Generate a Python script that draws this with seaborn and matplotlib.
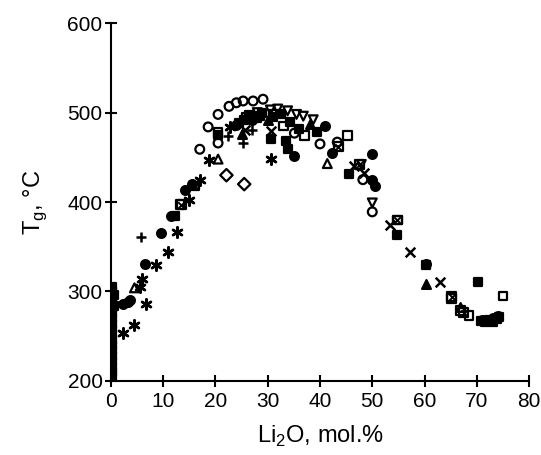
import numpy as np
import pandas as pd
import matplotlib
matplotlib.use("Agg")
import matplotlib.pyplot as plt
import seaborn as sns

# datos: Li2O (mol.%) vs Tg (C), una serie por simbolo
sq_fill_x = [0.3, 0.3, 0.3, 0.3, 0.3, 0.3, 0.3, 0.3, 0.3, 0.3, 0.3, 0.3, 0.3, 0.3, 0.3, 0.3, 0.3, 0.3, 0.6, 0.6,
             12.2, 20.4, 25.5, 26.5, 27.9, 29, 30.6, 31, 32.5, 33.8, 34.2, 36, 39.5, 45.6, 54.8, 60.2, 70.2,
             70.8, 71.5, 72.3, 73, 73.8, 74.3, 24.5, 28.5, 33.5]
sq_fill_y = [205, 210, 216, 222, 228, 234, 240, 246, 252, 258, 264, 270, 276, 282, 288, 294, 300, 305, 296, 284,
             384, 475, 492, 497, 494, 500, 470, 495, 498, 459, 490, 482, 478, 431, 363, 329, 311,
             267, 266, 268, 266, 269, 271, 488, 496, 468]
sq_open_x = [13.2, 20.5, 33, 37.1, 45.3, 54.8, 65.2, 66.9, 68.5, 75]
sq_open_y = [397, 478, 485, 474, 474, 380, 292, 279, 273, 295]
sq_x_x = [13.5, 16, 26, 31, 43.5, 47.6, 54.8, 65.2, 67.5]
sq_x_y = [397, 418, 495, 498, 462, 442, 380, 294, 276]
ci_fill_x = [2.4, 3.2, 3.7, 6.5, 9.6, 11.5, 14.2, 15.5, 24, 27, 35.1, 41, 42.3, 50, 50, 50.5, 60.2, 71, 72, 73, 74]
ci_fill_y = [286, 288, 290, 331, 365, 384, 414, 420, 486, 492, 451, 485, 455, 454, 425, 418, 331, 268, 267, 270, 272]
ci_open_x = [17, 18.6, 20.5, 20.5, 22.6, 24, 25.3, 27.2, 29.1, 35.1, 40, 43.3, 48.2, 50]
ci_open_y = [459, 484, 498, 466, 507, 511, 513, 513, 515, 477, 465, 467, 425, 389]
tri_open_x = [4.5, 20.5, 41.4, 66.9]
tri_open_y = [304, 448, 443, 282]
tri_fill_x = [25, 30, 38, 60.2]
tri_fill_y = [476, 492, 487, 308]
tri_inv_x = [28, 30.5, 31.9, 33.8, 35.5, 36.8, 38.7, 47.9, 50]
tri_inv_y = [500, 503, 504, 502, 498, 496, 492, 442, 399]
cruz_x = [25.7, 30.6, 46.5, 48.5, 53.3, 57.2, 63]
cruz_y = [481, 479, 440, 433, 374, 344, 311]
mas_x = [5.7, 22.4, 25.3, 27]
mas_y = [361, 474, 466, 480]
ast_x = [2.4, 4.4, 5.5, 6, 6.7, 8.6, 10.9, 12.6, 14.9, 17.1, 18.8, 22.8, 30.6]
ast_y = [254, 262, 305, 314, 286, 329, 344, 367, 402, 425, 447, 484, 448]
rombo_x = [22.1, 25.5]
rombo_y = [430, 420]

plt.rcParams["font.family"] = ["Liberation Sans", "DejaVu Sans"]
plt.rcParams["mathtext.fontset"] = "custom"
plt.rcParams["mathtext.rm"] = "Liberation Sans"

fig = plt.figure(figsize=(5.41, 4.55), dpi=100)
ax = fig.add_axes([0.205, 0.163, 0.773, 0.786])

series = [
    (sq_fill_x, sq_fill_y, "s", "k"),
    (sq_open_x, sq_open_y, "s", "none"),
    (ci_fill_x, ci_fill_y, "o", "k"),
    (ci_open_x, ci_open_y, "o", "none"),
    (tri_open_x, tri_open_y, "^", "none"),
    (tri_fill_x, tri_fill_y, "^", "k"),
    (tri_inv_x, tri_inv_y, "v", "none"),
    (rombo_x, rombo_y, "D", "none"),
]
for xs, ys, mk, fc in series:
    df = pd.DataFrame({"x": xs, "y": ys})
    sns.scatterplot(data=df, x="x", y="y", marker=mk, s=40, facecolor=fc,
                    edgecolor="k", linewidth=1.6, ax=ax, zorder=3)

df = pd.DataFrame({"x": sq_x_x, "y": sq_x_y})
sns.scatterplot(data=df, x="x", y="y", marker="s", s=40, facecolor="none",
                edgecolor="k", linewidth=1.6, ax=ax, zorder=3)
sns.scatterplot(data=df, x="x", y="y", marker="x", s=22, color="k", linewidth=1.4, ax=ax, zorder=3)

for xs, ys, mk, sz in [(cruz_x, cruz_y, "x", 48), (mas_x, mas_y, "+", 60), (ast_x, ast_y, (6, 2, 0), 55)]:
    df = pd.DataFrame({"x": xs, "y": ys})
    sns.scatterplot(data=df, x="x", y="y", marker=mk, s=sz, color="k", linewidth=1.8, ax=ax, zorder=3)

ax.set_xlim(0, 80)
ax.set_ylim(200, 600)
ax.set_xticks(range(0, 81, 10))
ax.set_yticks(range(200, 601, 100))
for s in ["top", "right"]:
    ax.spines[s].set_visible(False)
for s in ["left", "bottom"]:
    ax.spines[s].set_linewidth(1.5)
ax.tick_params(direction="inout", length=8, width=1.5, labelsize=15, colors="k")
ax.tick_params(axis="x", pad=4)
ax.tick_params(axis="y", pad=2)
ax.set_xlabel(r"Li$_\mathregular{2}$O, mol.%", fontsize=17, labelpad=9)
ax.set_ylabel(r"T$_\mathregular{g}$, °C", fontsize=17, labelpad=13)

fig.savefig("out.png", dpi=100)
